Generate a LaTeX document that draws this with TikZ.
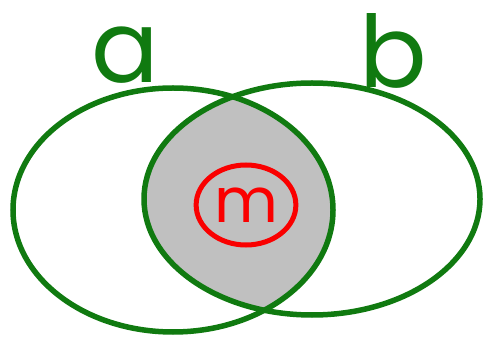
\documentclass[tikz,border=0pt]{standalone}
\usepackage{fontspec}
\newfontfamily\handfont{Poppins}
\usetikzlibrary{shapes.geometric}
\definecolor{setgreen}{RGB}{16,122,16}
\definecolor{meetgray}{RGB}{192,192,192}
\definecolor{markred}{RGB}{250,0,0}

\begin{document}
\begin{tikzpicture}[x=1pt,y=1pt]
  \tikzstyle{setline}=[draw=setgreen,line width=5.5pt]
  \tikzstyle{setlabel}=[text=setgreen,font=\handfont\fontsize{100}{100}\selectfont,anchor=base,inner sep=0pt]
  \useasboundingbox (0,0) rectangle (486,345);
  \coordinate (ca) at (173,135);
  \coordinate (cb) at (312,146);
  \begin{scope}
    \clip (ca) ellipse [x radius=160, y radius=122];
    \fill[meetgray] (cb) ellipse [x radius=168, y radius=116];
  \end{scope}
  \draw[setline] (ca) ellipse [x radius=160, y radius=122];
  \draw[setline] (cb) ellipse [x radius=168, y radius=116];
  \node[setlabel] (labela) at (125,262) {a};
  \node[setlabel] (labelb) at (393,257) {b};
  \node[draw=markred,ellipse,line width=5pt,text=markred,minimum width=95pt,minimum height=80pt,font=\handfont\fontsize{62}{62}\selectfont] (m) at (246,140) {m};
\end{tikzpicture}
\end{document}
